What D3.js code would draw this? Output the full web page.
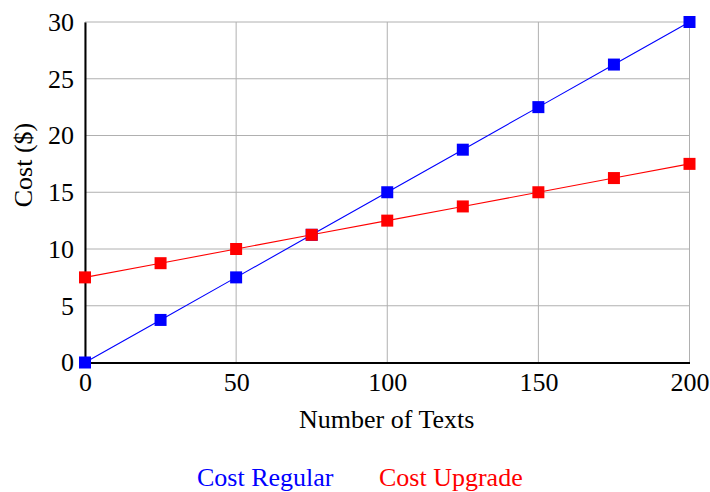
<!DOCTYPE html>
<html><head><meta charset="utf-8">
<script src="https://cdn.jsdelivr.net/npm/d3@7"></script>
<style>body{margin:0;background:#fff}svg{display:block}text{font-family:"Liberation Serif","DejaVu Serif",serif}</style>
</head><body><svg id="c" width="710" height="492"></svg>
<script>
const texts = [0, 25, 50, 75, 100, 125, 150, 175, 200];
const costRegular = [0, 3.75, 7.5, 11.25, 15, 18.75, 22.5, 26.25, 30];
const costUpgrade = [7.5, 8.75, 10, 11.25, 12.5, 13.75, 15, 16.25, 17.5];
const xTicks = [0, 50, 100, 150, 200];
const yTicks = [0, 5, 10, 15, 20, 25, 30];
const seriesNames = ["Cost Regular", "Cost Upgrade"];
const seriesColors = ["#0000ff", "#ff0000"];

const svg = d3.select("#c");
const L = 85, R = 689.5, T = 22, B = 362.5;
const FS = 26;
const x = d3.scaleLinear().domain([0, 200]).range([L, R]);
const y = d3.scaleLinear().domain([0, 30]).range([B, T]);

const g = svg.append("g");
g.selectAll(".gx").data(xTicks).join("line")
  .attr("x1", d => x(d)).attr("x2", d => x(d)).attr("y1", T).attr("y2", B)
  .attr("stroke", "#b0b0b0").attr("stroke-width", 1);
g.selectAll(".gy").data(yTicks).join("line")
  .attr("x1", L).attr("x2", R).attr("y1", d => y(d)).attr("y2", d => y(d))
  .attr("stroke", "#b0b0b0").attr("stroke-width", 1);

const xAxis = svg.append("g").attr("transform", `translate(0,${B})`)
  .call(d3.axisBottom(x).tickValues(xTicks).tickSize(0).tickPadding(10));
xAxis.select(".domain").attr("stroke", "#000").attr("stroke-width", 2);
xAxis.selectAll("text").attr("font-size", FS).attr("fill", "#000").attr("font-family", "Liberation Serif");

const yAxis = svg.append("g").attr("transform", `translate(${L},0)`)
  .call(d3.axisLeft(y).tickValues(yTicks).tickSize(0).tickPadding(11));
yAxis.select(".domain").attr("stroke", "#000").attr("stroke-width", 2);
yAxis.selectAll("text").attr("font-size", FS).attr("fill", "#000").attr("font-family", "Liberation Serif");

const data = [costRegular, costUpgrade];
const line = d3.line().x((d, i) => x(texts[i])).y(d => y(d));
data.forEach((s, k) => {
  svg.append("path").datum(s).attr("d", line).attr("fill", "none")
    .attr("stroke", seriesColors[k]).attr("stroke-width", 1.1);
  svg.selectAll(".m" + k).data(s).join("rect")
    .attr("x", (d, i) => x(texts[i]) - 6).attr("y", d => y(d) - 6)
    .attr("width", 12).attr("height", 12).attr("fill", seriesColors[k]);
});

svg.append("text").attr("x", (L + R) / 2 - 0.5).attr("y", 428).attr("text-anchor", "middle")
  .attr("font-size", FS).text("Number of Texts");
svg.append("text").attr("transform", `translate(32,165) rotate(-90)`)
  .attr("text-anchor", "middle").attr("font-size", FS).text("Cost ($)");

const legX = [197, 379];
seriesNames.forEach((n, k) => {
  svg.append("text").attr("x", legX[k]).attr("y", 486).attr("font-size", FS)
    .attr("fill", seriesColors[k]).text(n);
});
</script></body></html>
